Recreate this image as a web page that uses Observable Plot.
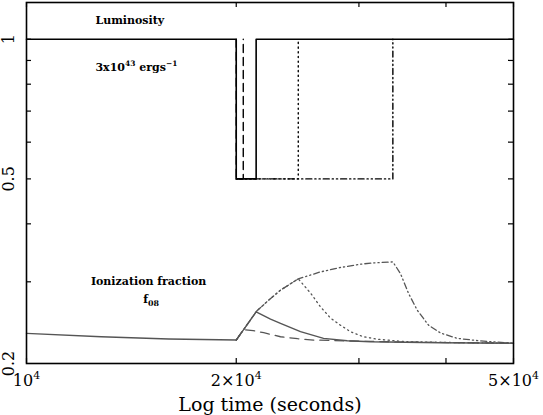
<!DOCTYPE html>
<html>
<head>
<meta charset="utf-8">
<script src="https://cdn.jsdelivr.net/npm/d3@7"></script>
<script src="https://cdn.jsdelivr.net/npm/@observablehq/plot@0.6"></script>
<style>
  html, body { margin: 0; padding: 0; background: #fff; }
</style>
</head>
<body>
<div id="chart"></div>
<script>
// ---- data (time in seconds, values relative) ----
const xTickValues = [1e4, 2e4, 3e4, 4e4, 5e4];
const xTickLabels = [[1e4, "10^{4}"], [2e4, "2×10^{4}"], [5e4, "5×10^{4}"]];
const yTickValues = [0.3, 0.4, 0.5, 0.6, 0.7, 0.8, 0.9, 1];
const yTickLabels = [[1, "1"], [0.5, "0.5"], [0.2, "0.2"]];

// Luminosity (normalised to 3x10^43 erg/s)
const lumSolid = [[1e4, 1], [2e4, 1], [2e4, 0.5], [2.136e4, 0.5], [2.136e4, 1], [5e4, 1]];
const lumDashed = [[2e4, 1], [2e4, 0.5], [2.047e4, 0.5], [2.047e4, 1]];
const lumDotted = [[2e4, 0.5], [2.455e4, 0.5], [2.455e4, 1]];
const lumDashDot = [[2e4, 0.5], [3.356e4, 0.5], [3.356e4, 1]];

// Ionization fraction f_08
const ionSolid = [[1e4, 0.2323], [1.28e4, 0.2284], [1.6e4, 0.2259], [2e4, 0.2247],
  [2.136e4, 0.2585], [2.24e4, 0.2493], [2.315e4, 0.244], [2.473e4, 0.2342],
  [2.669e4, 0.2266], [2.886e4, 0.2239], [3.116e4, 0.2228], [3.93e4, 0.2217], [5e4, 0.2212]];
const ionDashed = [[2e4, 0.2247], [2.047e4, 0.2366], [2.115e4, 0.2355], [2.19e4, 0.233],
  [2.315e4, 0.2284], [2.45e4, 0.2262], [2.582e4, 0.2247], [2.886e4, 0.2237],
  [3.5e4, 0.2224], [5e4, 0.2212]];
const ionDotted = [[2e4, 0.2247], [2.14e4, 0.2595], [2.23e4, 0.2745], [2.315e4, 0.2878],
  [2.455e4, 0.3045], [2.557e4, 0.2836], [2.642e4, 0.265], [2.731e4, 0.2506],
  [2.822e4, 0.2419], [2.917e4, 0.2342], [3.045e4, 0.2284], [3.2e4, 0.2255],
  [3.518e4, 0.2228], [4.2e4, 0.2218], [5e4, 0.2212]];
const ionDashDot = [[2e4, 0.2247], [2.14e4, 0.2595], [2.23e4, 0.2745], [2.315e4, 0.2878],
  [2.455e4, 0.3045], [2.642e4, 0.3151], [2.822e4, 0.3221], [3.015e4, 0.3274],
  [3.148e4, 0.3295], [3.356e4, 0.3311], [3.441e4, 0.3127], [3.533e4, 0.2836],
  [3.637e4, 0.2607], [3.776e4, 0.2419], [3.928e4, 0.2327], [4.151e4, 0.2266],
  [4.482e4, 0.2237], [4.897e4, 0.2217], [5e4, 0.2212]];

const annotations = [
  {x: 1.256e4, y: 1.078, text: "Luminosity"},
  {x: 1.256e4, y: 0.855, text: "3x10^{43} ergs^{−1}"}
];
const annotationsIon = [
  {x: 1.497e4, y: 0.2951, text: "Ionization fraction"},
  {x: 1.51e4, y: 0.27, text: "f_{08}"}
];

const W = 543, H = 415;
const mL = 26, mR = 30, mT = 2, mB = 52;
const fw = W - mL - mR, fh = H - mT - mB;
const tl = 5;
const gray = "#555";

const px = d => d[0], py = d => d[1];

const chart = Plot.plot({
  width: W, height: H,
  marginLeft: mL, marginRight: mR, marginTop: mT, marginBottom: mB,
  style: {fontFamily: "DejaVu Serif", background: "#fff", color: "#000"},
  x: {type: "log", domain: [1e4, 5e4], axis: null},
  y: {type: "log", domain: [0.2, 1.2], axis: null},
  marks: [
    // ionization curves
    Plot.line(ionDashDot, {x: px, y: py, stroke: gray, strokeWidth: 1.3, strokeDasharray: "6,3,1.2,3,1.2,3"}),
    Plot.line(ionDotted, {x: px, y: py, stroke: gray, strokeWidth: 1.3, strokeDasharray: "1.2,3.5"}),
    Plot.line(ionDashed, {x: px, y: py, stroke: gray, strokeWidth: 1.3, strokeDasharray: "9,6"}),
    Plot.line(ionSolid, {x: px, y: py, stroke: gray, strokeWidth: 1.4}),
    // luminosity curves
    Plot.line(lumDashDot, {x: px, y: py, stroke: "#000", strokeWidth: 1.4, strokeDasharray: "6,3,1.2,3,1.2,3"}),
    Plot.line(lumDotted, {x: px, y: py, stroke: "#000", strokeWidth: 1.4, strokeDasharray: "1.2,3.5"}),
    Plot.line(lumDashed, {x: px, y: py, stroke: "#000", strokeWidth: 1.4, strokeDasharray: "8,5"}),
    Plot.line(lumSolid, {x: px, y: py, stroke: "#000", strokeWidth: 1.6}),
    // inward ticks
    Plot.tickX(xTickValues, {x: d => d, insetTop: fh - tl, stroke: "#000", strokeWidth: 1.2}),
    Plot.tickX(xTickValues, {x: d => d, insetBottom: fh - tl, stroke: "#000", strokeWidth: 1.2}),
    Plot.tickY(yTickValues, {y: d => d, insetRight: fw - tl, stroke: "#000", strokeWidth: 1.2}),
    Plot.tickY(yTickValues, {y: d => d, insetLeft: fw - tl, stroke: "#000", strokeWidth: 1.2}),
    Plot.frame({stroke: "#000", strokeWidth: 1.6}),
    // tick labels
    Plot.text(xTickLabels, {x: px, text: py, frameAnchor: "bottom", dy: 22, lineAnchor: "bottom", fontSize: 16, fill: "#000"}),
    Plot.text(yTickLabels, {x: () => 1e4, y: px, text: py, dx: -13, rotate: -90, textAnchor: "middle", lineAnchor: "bottom", fontSize: 16, fill: "#000"}),
    // axis title
    Plot.text(["Log time (seconds)"], {frameAnchor: "bottom", dy: 47, lineAnchor: "bottom", fontSize: 19, fill: "#000"}),
    // annotations
    Plot.text(annotations, {x: "x", y: "y", text: "text", textAnchor: "start", lineAnchor: "bottom", fontSize: 11, fontWeight: "bold", fill: "#000"}),
    Plot.text(annotationsIon, {x: "x", y: "y", text: "text", textAnchor: "middle", lineAnchor: "bottom", fontSize: 11, fontWeight: "bold", fill: "#000"})
  ]
});

// turn ^{..} and _{..} markup into real superscript/subscript tspans
function fontSizeOf(el) {
  let n = el;
  while (n && n.getAttribute) {
    const f = n.getAttribute("font-size");
    if (f) return parseFloat(f);
    n = n.parentNode;
  }
  return 12;
}
chart.querySelectorAll("text").forEach(t => {
  const s = t.textContent;
  if (!/[\^_]\{/.test(s)) return;
  const fs = fontSizeOf(t);
  const parts = [];
  const re = /([\^_])\{([^}]*)\}/g;
  let last = 0, m;
  while ((m = re.exec(s))) {
    if (m.index > last) parts.push({kind: "n", text: s.slice(last, m.index)});
    parts.push({kind: m[1] === "^" ? "sup" : "sub", text: m[2]});
    last = re.lastIndex;
  }
  if (last < s.length) parts.push({kind: "n", text: s.slice(last)});
  while (t.firstChild) t.removeChild(t.firstChild);
  let offset = 0;
  const ns = "http://www.w3.org/2000/svg";
  for (const p of parts) {
    const ts = document.createElementNS(ns, "tspan");
    let target = 0;
    if (p.kind === "sup") { target = -0.42 * fs; ts.setAttribute("font-size", 0.68 * fs); }
    else if (p.kind === "sub") { target = 0.28 * fs; ts.setAttribute("font-size", 0.72 * fs); }
    const dy = target - offset;
    if (dy !== 0) ts.setAttribute("dy", dy);
    offset = target;
    ts.textContent = p.text;
    t.appendChild(ts);
  }
});

document.getElementById("chart").appendChild(chart);
</script>
</body>
</html>
